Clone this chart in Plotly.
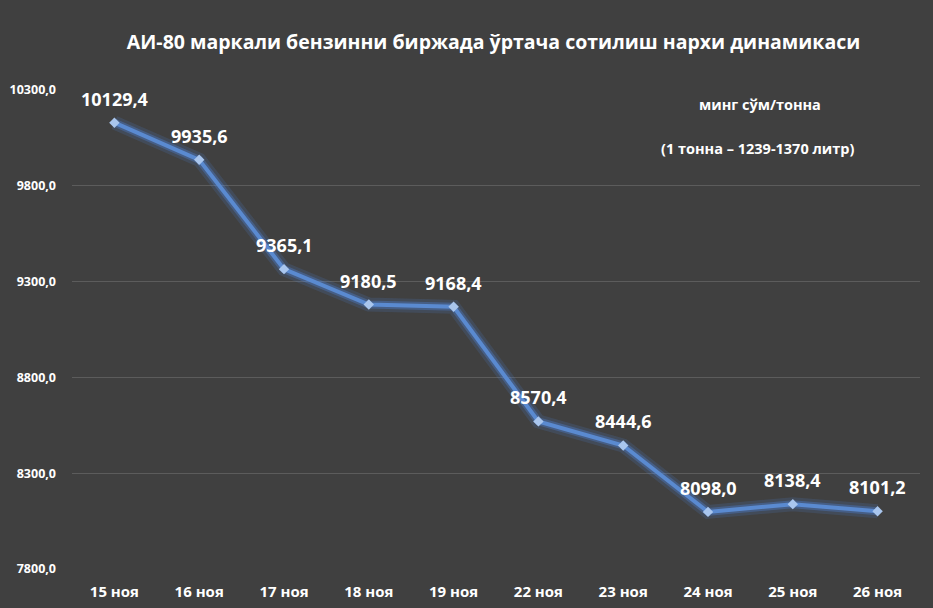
import plotly.graph_objects as go

categories = ["15 ноя", "16 ноя", "17 ноя", "18 ноя", "19 ноя", "22 ноя", "23 ноя", "24 ноя", "25 ноя", "26 ноя"]
values = [10129.4, 9935.6, 9365.1, 9180.5, 9168.4, 8570.4, 8444.6, 8098.0, 8138.4, 8101.2]
y_ticks = [7800, 8300, 8800, 9300, 9800, 10300]

title = "АИ-80 маркали бензинни биржада ўртача сотилиш нархи динамикаси"
unit_note = "минг сўм/тонна"
litre_note = "(1 тонна – 1239-1370 литр)"

labels = [f"{v:.1f}".replace(".", ",") for v in values]
font_family = "Open Sans"

fig = go.Figure()
# glow
fig.add_trace(go.Scatter(x=categories, y=values, mode="lines",
                         line=dict(color="rgba(80,140,235,0.15)", width=14),
                         hoverinfo="skip", showlegend=False))
fig.add_trace(go.Scatter(x=categories, y=values, mode="lines",
                         line=dict(color="rgba(80,140,235,0.3)", width=8),
                         hoverinfo="skip", showlegend=False))
fig.add_trace(go.Scatter(x=categories, y=values, mode="lines+markers",
                         line=dict(color="#5A8AD0", width=4),
                         marker=dict(symbol="diamond", size=8, color="#A9C6EE"),
                         showlegend=False))

plot_l, plot_r, plot_t, plot_b = 72, 13, 90, 39
plot_w = 933 - plot_l - plot_r
plot_h = 608 - plot_t - plot_b

annotations = []
for c, v, t in zip(categories, values, labels):
    annotations.append(dict(x=c, y=v, xref="x", yref="y", text=t, showarrow=False,
                            yshift=24, xanchor="center", yanchor="middle",
                            font=dict(family=font_family, size=18, color="white", weight="bold")))

def paper(px, py):
    return (px - plot_l) / plot_w, 1 - (py - plot_t) / plot_h

for txt, (px, py) in [(unit_note, (760, 104)), (litre_note, (757, 148))]:
    ax, ay = paper(px, py)
    annotations.append(dict(text=txt, x=ax, y=ay, xref="paper", yref="paper", showarrow=False,
                            xanchor="center", yanchor="middle",
                            font=dict(family=font_family, size=14.5, color="white", weight="bold")))

fig.update_layout(
    width=933, height=608,
    paper_bgcolor="#404040", plot_bgcolor="#404040",
    margin=dict(l=plot_l, r=plot_r, t=plot_t, b=plot_b),
    separators=", ",
    title=dict(text=title, x=0.529, xanchor="center", y=0.931, yanchor="middle",
               font=dict(family=font_family, size=19.5, color="white", weight="bold")),
    xaxis=dict(type="category", showgrid=False, zeroline=False, showline=False,
               automargin=False, range=[-0.5, len(categories) - 0.5],
               tickfont=dict(family=font_family, size=15, color="white", weight="bold"),
               ticks="", ticklen=0, ticklabelstandoff=12),
    yaxis=dict(range=[7800, 10300], tickvals=y_ticks, tickformat=".1f",
               showgrid=True, gridcolor="#5c5c5c", gridwidth=1, zeroline=False,
               automargin=False,
               showline=False, ticks="", ticklen=0, ticklabelstandoff=15,
               tickfont=dict(family=font_family, size=12.5, color="white", weight="bold")),
    annotations=annotations,
)
fig.write_html("out.html")
